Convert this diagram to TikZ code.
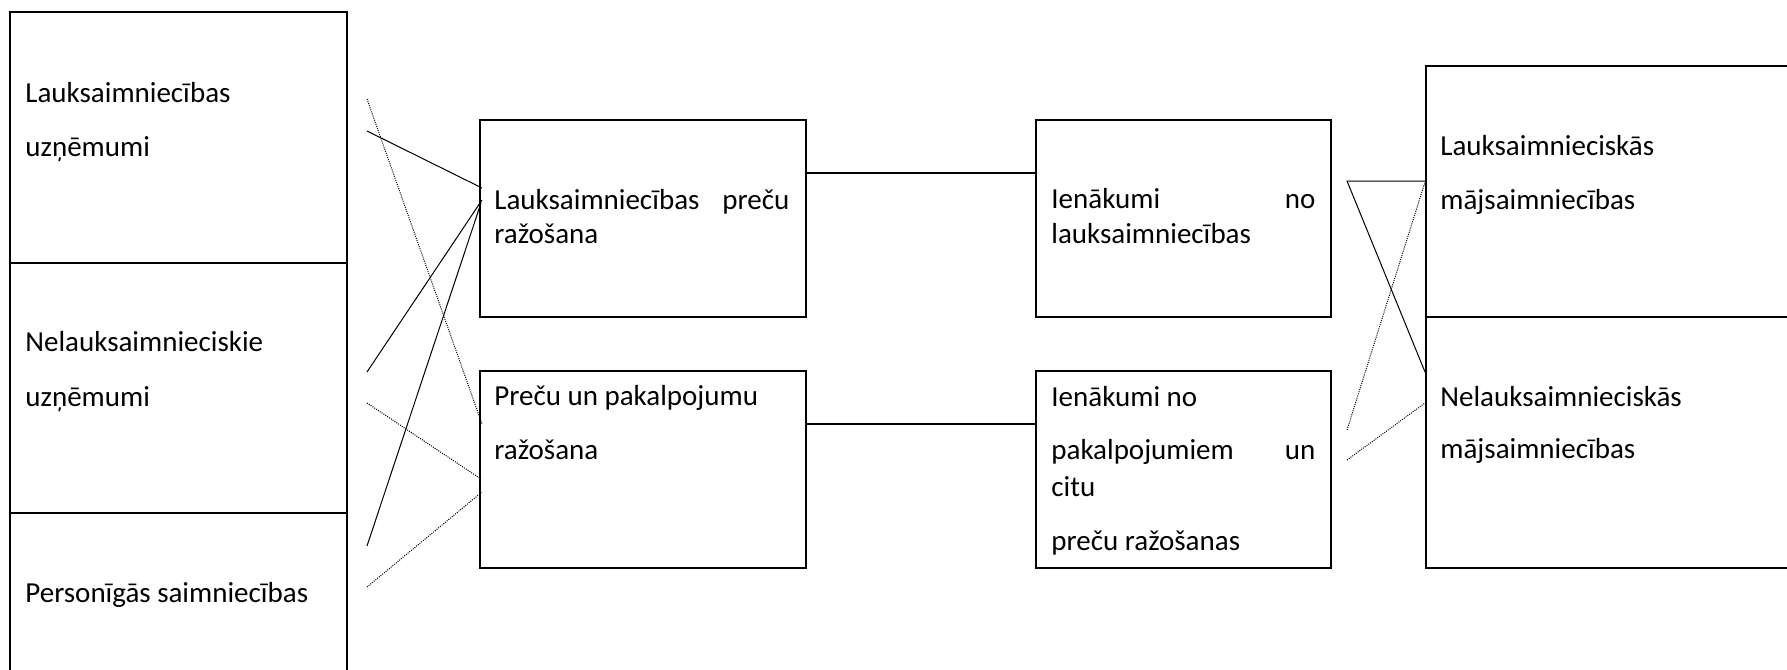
\documentclass[tikz,border=0pt]{standalone}
\usepackage{fontspec}
\setmainfont{Carlito}
\usepackage{tikz}

\begin{document}
\begin{tikzpicture}[x=0.5pt,y=-0.5pt,
		cellbox/.style={draw=black,line width=1pt,rectangle,anchor=north west,minimum width=#1},
		boxtext/.style={anchor=base west,font=\fontsize{14.5}{17}\selectfont},
		link/.style={black,line width=0.5pt},
		dotlink/.style={black,line width=0.5pt,dash pattern=on 0.5pt off 0.6pt}]
			\tikzstyle{every node}+=[inner sep=0pt]
			\useasboundingbox (0,0) rectangle (1787,669);
			\clip (0,0) rectangle (1787,669);
			
			% left column
			\node[cellbox=168.5pt,minimum height=125.5pt] (lauks) at (9,11) {};
			\node[cellbox=168.5pt,minimum height=125pt] (nelauks) at (9,262) {};
			\node[cellbox=168.5pt,minimum height=125pt] (pers) at (9,512) {};
			\node[boxtext] (t1) at (25,102) {Lauksaimniecības};
			\node[boxtext] (t2) at (25,156) {uzņēmumi};
			\node[boxtext] (t3) at (25,351) {Nelauksaimnieciskie};
			\node[boxtext] (t4) at (25,406) {uzņēmumi};
			\node[boxtext] (t5) at (25,602) {Personīgās saimniecības};
			
			% production
			\node[cellbox=163pt,minimum height=98.5pt] (razA) at (479,119) {};
			\node[cellbox=163pt,minimum height=98.5pt] (razB) at (479,370) {};
			\node[boxtext] (t6) at (494,209) {\makebox[147.5pt][s]{Lauksaimniecības preču}};
			\node[boxtext] (t7) at (494,243) {ražošana};
			\node[boxtext] (t8) at (494,405) {Preču un pakalpojumu};
			\node[boxtext] (t9) at (494,459) {ražošana};
			
			% income
			\node[cellbox=147.5pt,minimum height=98.5pt] (ienA) at (1035,119) {};
			\node[cellbox=147.5pt,minimum height=98.5pt] (ienB) at (1035,370) {};
			\node[boxtext] (t10) at (1051,208) {\makebox[132pt][s]{Ienākumi no}};
			\node[boxtext] (t11) at (1051,243) {lauksaimniecības};
			\node[boxtext] (t12) at (1051,406) {Ienākumi no};
			\node[boxtext] (t13) at (1051,459) {\makebox[132pt][s]{pakalpojumiem un}};
			\node[boxtext] (t14) at (1051,496) {citu};
			\node[boxtext] (t15) at (1051,550) {preču ražošanas};
			
			% households
			\node[cellbox=200pt,minimum height=125.5pt] (majL) at (1425,65) {};
			\node[cellbox=200pt,minimum height=125.5pt] (majN) at (1425,316) {};
			\node[boxtext] (t16) at (1440,155) {Lauksaimnieciskās};
			\node[boxtext] (t17) at (1440,209) {mājsaimniecības};
			\node[boxtext] (t18) at (1440,406) {Nelauksaimnieciskās};
			\node[boxtext] (t19) at (1440,458) {mājsaimniecības};
			
			% left links
			\coordinate (p1) at (367,131);
			\coordinate (p2) at (367,99);
			\coordinate (p3) at (367,372);
			\coordinate (p4) at (367,403);
			\coordinate (p5) at (367,546);
			\coordinate (p6) at (367,587);
			\draw[link] (p1) -- ([xshift=1.5pt,yshift=-34.5pt]razA.north west);
			\draw[dotlink] (p2) -- ([xshift=1.5pt,yshift=-27pt]razB.north west);
			\draw[link] (p3) -- ([xshift=1.5pt,yshift=-40.5pt]razA.north west);
			\draw[dotlink] (p4) -- ([xshift=1pt,yshift=-54.5pt]razB.north west);
			\draw[link] (p5) -- ([xshift=1pt,yshift=-42pt]razA.north west);
			\draw[dotlink] (p6) -- ([xshift=1.5pt,yshift=-61pt]razB.north west);
			
			% middle links
			\draw[line width=1pt] ([yshift=-27pt]razA.north east) -- ([yshift=-27pt]ienA.north west);
			\draw[line width=1pt] ([yshift=-27pt]razB.north east) -- ([yshift=-27pt]ienB.north west);
			
			% right links
			\coordinate (q1) at (1347,181);
			\coordinate (q2) at (1347,430);
			\coordinate (q3) at (1347,460);
			\draw[link] ([yshift=-58pt]majL.north west) -- (q1) -- ([yshift=-28pt]majN.north west);
			\draw[dotlink] (q2) -- ([yshift=-58.5pt]majL.north west);
			\draw[dotlink] (q3) -- ([yshift=-43.5pt]majN.north west);
		\end{tikzpicture}
\end{document}
